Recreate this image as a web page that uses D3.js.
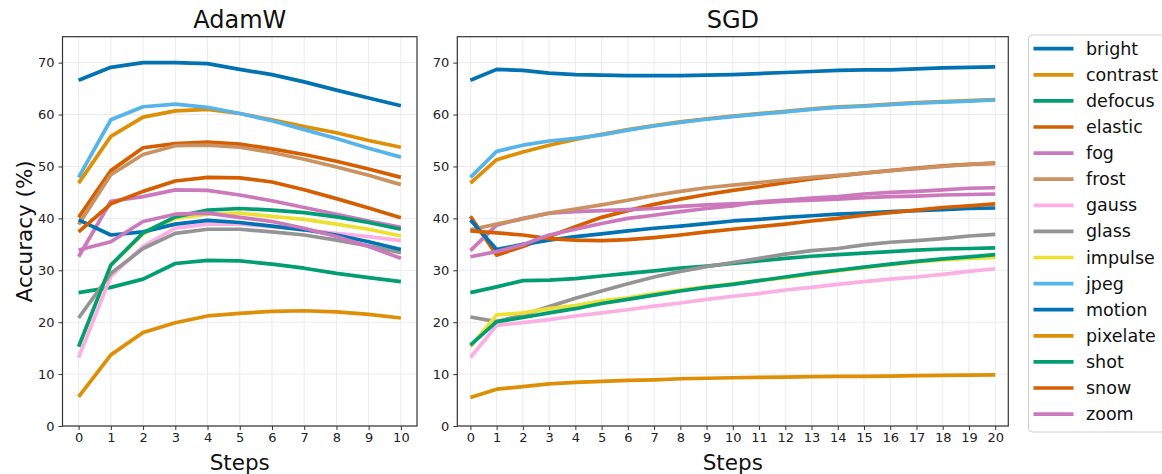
<!DOCTYPE html>
<html>
<head>
<meta charset="utf-8">
<script src="https://cdn.jsdelivr.net/npm/d3@7"></script>
<style>
html,body{margin:0;padding:0;background:#fff;}
svg{display:block;font-family:"DejaVu Sans",sans-serif;}
</style>
</head>
<body>
<svg id="chart" width="1162" height="474"></svg>
<script>
const seriesNames = ["bright","contrast","defocus","elastic","fog","frost","gauss","glass","impulse","jpeg","motion","pixelate","shot","snow","zoom"];
const palette = ["#0173b2","#de8f05","#029e73","#d55e00","#cc78bc","#ca9161","#fbafe4","#949494","#ece133","#56b4e9"];
const yTicks = [0,10,20,30,40,50,60,70];
const adamSteps = [0,1,2,3,4,5,6,7,8,9,10];
const sgdSteps = [0,1,2,3,4,5,6,7,8,9,10,11,12,13,14,15,16,17,18,19,20];

// AdamW values (steps 0..10)
const adam_bright   = [66.6,69.1,70.0,70.0,69.8,68.7,67.7,66.3,64.7,63.2,61.7];
const adam_contrast = [46.8,55.8,59.5,60.7,61.0,60.2,59.0,57.7,56.5,55.0,53.7];
const adam_defocus  = [25.7,26.7,28.3,31.3,31.9,31.8,31.2,30.4,29.4,28.6,27.8];
const adam_elastic  = [40.2,49.2,53.6,54.4,54.7,54.3,53.4,52.3,51.0,49.5,47.9];
const adam_fog      = [32.6,43.3,44.2,45.5,45.4,44.5,43.4,42.1,40.8,39.5,38.3];
const adam_frost    = [38.8,48.4,52.3,54.0,54.1,53.7,52.7,51.4,49.9,48.3,46.5];
const adam_gauss    = [13.2,28.8,34.6,38.1,38.9,38.9,38.4,37.8,37.1,36.5,35.7];
const adam_glass    = [20.8,29.4,34.2,37.1,37.9,37.9,37.4,36.8,35.8,34.7,33.4];
const adam_impulse  = [15.3,31.0,37.0,40.0,40.8,41.0,40.4,39.8,38.9,37.9,36.6];
const adam_jpeg     = [47.9,59.0,61.5,62.0,61.4,60.2,58.8,57.1,55.4,53.5,51.8];
const adam_motion   = [39.7,36.8,37.4,38.9,39.6,39.2,38.5,37.8,36.8,35.5,34.0];
const adam_pixelate = [5.6,13.7,18.0,19.9,21.2,21.7,22.1,22.2,22.0,21.5,20.8];
const adam_shot     = [15.3,31.0,37.2,40.3,41.6,41.9,41.6,41.1,40.3,39.2,37.9];
const adam_snow     = [37.4,42.8,45.2,47.2,47.9,47.8,47.0,45.5,43.8,42.0,40.1];
const adam_zoom     = [33.9,35.5,39.4,40.8,41.0,40.2,39.4,38.1,36.5,34.6,32.3];

// SGD values (steps 0..20)
const sgd_bright   = [66.6,68.7,68.5,68.0,67.7,67.6,67.5,67.5,67.5,67.6,67.7,67.9,68.1,68.3,68.5,68.6,68.6,68.8,69.0,69.1,69.2];
const sgd_contrast = [46.8,51.3,52.8,54.1,55.2,56.2,57.1,57.9,58.6,59.2,59.7,60.2,60.6,61.1,61.5,61.7,62.0,62.3,62.5,62.7,62.9];
const sgd_defocus  = [25.7,26.8,28.0,28.1,28.4,28.9,29.4,29.9,30.4,30.8,31.3,31.8,32.3,32.7,33.0,33.3,33.6,33.9,34.1,34.2,34.3];
const sgd_elastic  = [40.4,32.9,34.6,36.5,38.4,40.2,41.5,42.7,43.7,44.6,45.4,46.1,46.9,47.6,48.2,48.7,49.2,49.7,50.1,50.4,50.6];
const sgd_fog      = [33.8,38.7,40.0,41.0,41.3,41.5,41.7,41.9,42.3,42.6,42.8,43.0,43.3,43.5,43.7,44.0,44.2,44.3,44.5,44.6,44.7];
const sgd_frost    = [37.8,38.9,39.9,41.0,41.8,42.6,43.5,44.4,45.2,45.9,46.4,46.9,47.4,47.9,48.3,48.7,49.2,49.6,50.0,50.4,50.7];
const sgd_gauss    = [13.2,19.4,19.9,20.5,21.2,21.8,22.4,23.1,23.7,24.4,25.0,25.5,26.2,26.7,27.3,27.8,28.3,28.7,29.2,29.8,30.3];
const sgd_glass    = [21.0,20.1,21.4,23.0,24.6,26.0,27.4,28.7,29.8,30.7,31.5,32.3,33.1,33.8,34.2,34.9,35.4,35.7,36.1,36.6,36.9];
const sgd_impulse  = [15.3,21.4,21.8,22.6,23.2,24.1,24.7,25.5,26.2,26.8,27.4,28.0,28.6,29.3,29.9,30.5,31.1,31.6,32.0,32.3,32.5];
const sgd_jpeg     = [47.9,52.9,54.1,54.9,55.4,56.1,57.0,57.8,58.5,59.1,59.6,60.1,60.5,61.0,61.4,61.6,61.9,62.2,62.4,62.6,62.8];
const sgd_motion   = [39.7,34.0,35.0,35.8,36.5,37.0,37.6,38.1,38.5,39.0,39.5,39.8,40.2,40.5,40.8,41.0,41.3,41.5,41.7,41.9,42.0];
const sgd_pixelate = [5.5,7.1,7.6,8.1,8.4,8.6,8.8,8.9,9.1,9.2,9.3,9.35,9.4,9.5,9.55,9.55,9.6,9.7,9.75,9.8,9.85];
const sgd_shot     = [15.6,20.1,20.9,21.8,22.6,23.6,24.4,25.2,26.0,26.7,27.3,28.0,28.7,29.4,30.0,30.6,31.2,31.7,32.2,32.6,33.0];
const sgd_snow     = [37.6,37.2,36.8,36.1,35.8,35.7,35.9,36.3,36.8,37.4,37.9,38.4,38.9,39.5,40.0,40.6,41.1,41.6,42.1,42.4,42.8];
const sgd_zoom     = [32.6,33.6,34.9,36.8,37.9,39.0,40.0,40.6,41.3,41.9,42.4,43.2,43.5,43.9,44.2,44.7,45.0,45.2,45.5,45.8,45.9];

const adamData = [adam_bright,adam_contrast,adam_defocus,adam_elastic,adam_fog,adam_frost,adam_gauss,adam_glass,adam_impulse,adam_jpeg,adam_motion,adam_pixelate,adam_shot,adam_snow,adam_zoom];
const sgdData = [sgd_bright,sgd_contrast,sgd_defocus,sgd_elastic,sgd_fog,sgd_frost,sgd_gauss,sgd_glass,sgd_impulse,sgd_jpeg,sgd_motion,sgd_pixelate,sgd_shot,sgd_snow,sgd_zoom];

const svg = d3.select("#chart");
const plotTop = 36.7, plotBottom = 426;
const y = d3.scaleLinear().domain([0,75]).range([plotBottom, plotTop]);
const LW = 3.7;

function panel(title, steps, data, x0, x1, xmax, showYLabel) {
  const x = d3.scaleLinear().domain([-0.5, xmax + 0.5]).range([x0, x1]);
  const g = svg.append("g");
  // grid
  g.append("g").selectAll("line").data(steps).join("line")
    .attr("x1", d => x(d)).attr("x2", d => x(d)).attr("y1", plotTop).attr("y2", plotBottom)
    .attr("stroke", "#ebebeb").attr("stroke-width", 1);
  g.append("g").selectAll("line").data(yTicks).join("line")
    .attr("x1", x0).attr("x2", x1).attr("y1", d => y(d)).attr("y2", d => y(d))
    .attr("stroke", "#ebebeb").attr("stroke-width", 1);
  // lines
  const line = d3.line().x((d,i) => x(steps[i])).y(d => y(d));
  data.forEach((vals, i) => {
    g.append("path").attr("d", line(vals)).attr("fill","none")
      .attr("stroke", palette[i % 10]).attr("stroke-width", LW)
      .attr("stroke-linejoin","round").attr("stroke-linecap","butt");
  });
  // axes
  const xAxis = d3.axisBottom(x).tickValues(steps).tickSize(4).tickPadding(3).tickFormat(d3.format("d"));
  const yAxis = d3.axisLeft(y).tickValues(yTicks).tickSize(4).tickPadding(4).tickFormat(d3.format("d"));
  const gx = g.append("g").attr("transform", `translate(0,${plotBottom})`).call(xAxis);
  const gy = g.append("g").attr("transform", `translate(${x0},0)`).call(yAxis);
  [gx, gy].forEach(a => {
    a.select(".domain").remove();
    a.selectAll(".tick line").attr("stroke", "#333").attr("stroke-width", 1);
    a.selectAll(".tick text").attr("fill", "#222").style("font-size", "13px").style("font-family", "DejaVu Sans");
  });
  // frame
  g.append("rect").attr("x", x0).attr("y", plotTop).attr("width", x1 - x0).attr("height", plotBottom - plotTop)
    .attr("fill","none").attr("stroke","#333").attr("stroke-width",1.2);
  // title
  g.append("text").attr("x", (x0+x1)/2).attr("y", 28).attr("text-anchor","middle")
    .style("font-size","24px").attr("fill","#111").text(title);
  g.append("text").attr("x", (x0+x1)/2).attr("y", 470).attr("text-anchor","middle")
    .style("font-size","21.5px").attr("fill","#111").text("Steps");
  if (showYLabel) {
    g.append("text").attr("transform", `translate(32,${(plotTop+plotBottom)/2}) rotate(-90)`)
      .attr("text-anchor","middle").style("font-size","21.5px").attr("fill","#111").text("Accuracy (%)");
  }
}

panel("AdamW", adamSteps, adamData, 62.5, 417, 10, true);
panel("SGD", sgdSteps, sgdData, 457.3, 1008.3, 20, false);

// legend
const lg = svg.append("g");
lg.append("rect").attr("x", 1028.5).attr("y", 35).attr("width", 160).attr("height", 397)
  .attr("rx", 4).attr("fill","#fff").attr("fill-opacity",0.8).attr("stroke","#d0d0d0").attr("stroke-width",1);
seriesNames.forEach((name, i) => {
  const cy = 48.7 + i * 26.1;
  lg.append("line").attr("x1", 1033.5).attr("x2", 1073.5).attr("y1", cy).attr("y2", cy)
    .attr("stroke", palette[i % 10]).attr("stroke-width", LW);
  lg.append("text").attr("x", 1086).attr("y", cy + 6).style("font-size","17.5px").attr("fill","#111").text(name);
});
</script>
</body>
</html>
